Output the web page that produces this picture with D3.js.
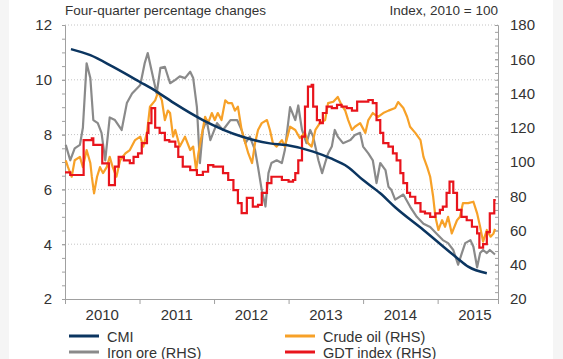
<!DOCTYPE html>
<html><head><meta charset="utf-8">
<script src="https://cdn.jsdelivr.net/npm/d3@7"></script>
<style>
body{margin:0;background:#f5f5f5;}
svg{display:block;font-family:Arial,"Liberation Sans",sans-serif;}
</style>
</head><body>
<svg id="c" width="563" height="359"></svg>
<script>
// ---- data (decimal year, value) ----
const yearLabels = [2010, 2011, 2012, 2013, 2014, 2015];
const leftTicks = [2, 4, 6, 8, 10, 12];
const rightTicks = [20, 40, 60, 80, 100, 120, 140, 160, 180];
const leftTitle = "Four-quarter percentage changes";
const rightTitle = "Index, 2010 = 100";

// CMI, four-quarter % change (LHS)
const cmi = [[2010.08,11.12],[2010.34,10.9],[2010.64,10.48],[2011.0,9.93],[2011.23,9.57],[2011.48,9.12],
  [2011.85,8.53],[2012.38,7.92],[2012.75,7.68],[2012.97,7.62],[2013.33,7.38],[2013.56,7.14],[2013.79,6.83],
  [2014.0,6.34],[2014.23,5.86],[2014.43,5.35],[2014.81,4.52],[2015.26,3.5],[2015.41,3.18],[2015.66,2.94]];

// Iron ore (RHS)
const ironOre = [[2010.01,110],[2010.07,101],[2010.13,108],[2010.20,110],[2010.24,120],[2010.29,157.6],
  [2010.34,149],[2010.38,124.5],[2010.44,122.7],[2010.49,117],[2010.54,101],[2010.60,126],[2010.67,124.5],
  [2010.76,118.7],[2010.83,134.4],[2010.90,140],[2011.01,145],[2011.07,157.8],[2011.11,163.6],[2011.16,153.7],
  [2011.23,140],[2011.28,155],[2011.34,155.6],[2011.41,146],[2011.48,148],[2011.54,150],[2011.61,149],
  [2011.68,152.7],[2011.72,149],[2011.77,132],[2011.81,99.4],[2011.85,118.7],[2011.90,124.5],[2011.95,112.8],
  [2012.04,122.7],[2012.12,118.7],[2012.22,124.5],[2012.31,124.5],[2012.37,118.7],[2012.42,111],[2012.48,114.8],
  [2012.55,107],[2012.59,97],[2012.64,83.6],[2012.69,74],[2012.73,93.5],[2012.77,99.4],[2012.84,101],
  [2012.91,99.4],[2012.95,107],[2013.02,132],[2013.09,124.5],[2013.13,133],[2013.18,118.7],[2013.24,111],
  [2013.29,118.7],[2013.33,114.8],[2013.40,101],[2013.45,93.5],[2013.49,99.4],[2013.53,105],[2013.58,109],
  [2013.62,118.7],[2013.66,114.8],[2013.73,111],[2013.83,112.8],[2013.89,115.8],[2013.96,117],[2014.00,109],
  [2014.07,105],[2014.13,101],[2014.18,87.7],[2014.23,99.4],[2014.30,95.3],[2014.34,85.6],[2014.38,83.6],
  [2014.43,78],[2014.54,81],[2014.63,74],[2014.72,68],[2014.81,64],[2014.90,62],[2014.99,58],[2015.07,54.4],
  [2015.14,52.6],[2015.21,48.6],[2015.275,40],[2015.325,46.8],[2015.37,52.6],[2015.44,54.4],[2015.48,50.5],
  [2015.53,38.5],[2015.57,46.8],[2015.61,48.6],[2015.66,46.8],[2015.70,48.6],[2015.77,46]];

// Crude oil (RHS)
const crudeOil = [[2010.01,101],[2010.04,97],[2010.09,91.4],[2010.13,101],[2010.20,103],[2010.24,97],
  [2010.29,107],[2010.34,99.4],[2010.36,91.4],[2010.39,81.7],[2010.43,91.4],[2010.47,97],[2010.51,93.5],
  [2010.56,97],[2010.60,103],[2010.64,97],[2010.69,91.4],[2010.74,101],[2010.81,105],[2010.87,107],
  [2010.94,112.8],[2011.01,114.8],[2011.05,109],[2011.10,117],[2011.14,132.3],[2011.21,136],[2011.25,141],
  [2011.30,136],[2011.34,124.5],[2011.38,130],[2011.41,128.6],[2011.45,114.8],[2011.48,118.7],[2011.54,109],
  [2011.61,114.8],[2011.68,107],[2011.72,109],[2011.76,95.3],[2011.79,105],[2011.84,117],[2011.88,126.4],
  [2011.92,122.7],[2011.97,128.6],[2012.01,124.5],[2012.05,128.6],[2012.10,124.5],[2012.15,136],[2012.19,134.4],
  [2012.24,134.4],[2012.28,130],[2012.32,132.3],[2012.37,118.7],[2012.42,111],[2012.46,105],[2012.51,99.4],
  [2012.55,111],[2012.59,118.7],[2012.64,122.7],[2012.71,124.5],[2012.75,118.7],[2012.79,111],[2012.84,109],
  [2012.91,112.8],[2012.95,109],[2013.02,120.6],[2013.09,118.7],[2013.15,114],[2013.22,117],[2013.26,111],
  [2013.31,109],[2013.36,118.7],[2013.42,122.7],[2013.49,124.5],[2013.53,134.4],[2013.60,135.2],[2013.66,138],
  [2013.71,133.3],[2013.76,130],[2013.80,124.5],[2013.85,118.7],[2013.89,120.6],[2013.96,122.7],[2014.03,117],
  [2014.07,124.5],[2014.13,128.6],[2014.20,126.4],[2014.27,128.6],[2014.34,130],[2014.43,131.5],[2014.47,135],
  [2014.54,131.5],[2014.59,126.4],[2014.63,120.6],[2014.70,117],[2014.77,112.8],[2014.81,103],[2014.86,97],
  [2014.90,91.4],[2014.94,79.7],[2014.97,68],[2015.01,60.3],[2015.06,66],[2015.10,62.2],[2015.14,68],
  [2015.19,58.3],[2015.26,66],[2015.30,68],[2015.34,76],[2015.41,76],[2015.48,76.8],[2015.53,70],
  [2015.57,62.2],[2015.61,53.5],[2015.66,60.3],[2015.71,56.4],[2015.75,58.3],[2015.77,61]];

// GDT index (RHS), step values
const gdtIndex = [[2010.00,94],[2010.07,92.4],[2010.25,112.8],[2010.36,113.8],[2010.38,110],[2010.50,99.2],
  [2010.59,86.5],[2010.67,97.3],[2010.72,103],[2010.79,101],[2010.87,99.4],[2010.92,103],[2010.98,105],
  [2011.03,111],[2011.10,117],[2011.12,122.7],[2011.16,131.5],[2011.21,120],[2011.27,117],[2011.34,112.8],
  [2011.40,111.9],[2011.48,109],[2011.52,103],[2011.58,97.3],[2011.68,95.3],[2011.77,92.4],[2011.85,94.3],
  [2011.92,98.2],[2011.99,97.3],[2012.12,93.5],[2012.19,89.5],[2012.26,83.6],[2012.32,76],[2012.37,70.2],
  [2012.44,79],[2012.52,74],[2012.59,75],[2012.64,82],[2012.71,87.7],[2012.77,91.4],[2012.91,89.5],
  [2013.00,88.5],[2013.06,89.5],[2013.09,93.5],[2013.13,101],[2013.18,114.8],[2013.22,132.3],[2013.26,144],
  [2013.31,145],[2013.33,132.3],[2013.38,124.5],[2013.42,122.7],[2013.46,128.6],[2013.51,132.3],[2013.58,131.5],
  [2013.65,133.3],[2013.71,132.3],[2013.78,131.5],[2013.85,130],[2013.92,135.2],[2014.07,136.2],[2014.13,134.4],
  [2014.18,124.5],[2014.23,117],[2014.27,111],[2014.34,109],[2014.40,105],[2014.45,101],[2014.50,93.5],
  [2014.54,87.7],[2014.59,82],[2014.63,79.7],[2014.70,76],[2014.77,71],[2014.83,70],[2014.90,68],[2014.97,70],
  [2015.03,72],[2015.07,74],[2015.12,82],[2015.16,88.5],[2015.21,82],[2015.26,72],[2015.32,68],[2015.39,66],
  [2015.46,62.2],[2015.53,58.3],[2015.56,50],[2015.61,52],[2015.66,59],[2015.70,70],[2015.76,77.8],[2015.78,77.8]];

const legendItems = [
  {name:"CMI", data:cmi, color:"#0b3560", col:0, row:0},
  {name:"Crude oil (RHS)", data:crudeOil, color:"#f7a128", col:1, row:0},
  {name:"Iron ore (RHS)", data:ironOre, color:"#8a8a8a", col:0, row:1},
  {name:"GDT index (RHS)", data:gdtIndex, color:"#e8141c", col:1, row:1}
];

// ---- drawing ----
const svg = d3.select("#c");
svg.append("rect").attr("x",9).attr("y",0).attr("width",544).attr("height",359).attr("fill","#fff");

const L = 65, R = 498, T = 25, B = 299;
const x = d3.scaleLinear().domain([2010, 2015.81]).range([L, R]);
const yL = d3.scaleLinear().domain([2, 12]).range([B, T]);
const yR = d3.scaleLinear().domain([20, 180]).range([B, T]);

// gridlines
svg.append("g").selectAll("line").data(leftTicks.filter(d=>d>2)).join("line")
  .attr("x1", L).attr("x2", R).attr("y1", d=>yL(d)).attr("y2", d=>yL(d))
  .attr("stroke","#c4c4c4").attr("stroke-width",1).attr("stroke-dasharray","1,2");

const axisColor = "#a0a0a0";
function styleAxis(g){
  g.selectAll(".domain").attr("stroke", axisColor);
  g.selectAll(".tick line").attr("stroke", axisColor);
  g.selectAll("text").attr("fill","#333").attr("font-size","15px").attr("font-family","Arial, 'Liberation Sans', sans-serif");
}

// left axis minor ticks
svg.append("g").attr("transform",`translate(${L},0)`)
  .call(d3.axisLeft(yL).tickValues(d3.range(2, 12.01, 0.5)).tickFormat("").tickSize(3).tickSizeOuter(0))
  .call(styleAxis);
// left axis labels
svg.append("g").attr("transform",`translate(${L},0)`)
  .call(d3.axisLeft(yL).tickValues(leftTicks).tickSize(3).tickPadding(10).tickSizeOuter(0))
  .call(styleAxis);

// right axis minor ticks (inside)
svg.append("g").attr("transform",`translate(${R},0)`)
  .call(d3.axisRight(yR).tickValues(d3.range(20, 180.1, 4)).tickFormat("").tickSize(-3).tickSizeOuter(0))
  .call(styleAxis);
svg.append("g").attr("transform",`translate(${R},0)`)
  .call(d3.axisRight(yR).tickValues(rightTicks).tickSize(-3).tickPadding(12).tickSizeOuter(0))
  .call(styleAxis);

// bottom axis
svg.append("g").attr("transform",`translate(0,${B})`)
  .call(d3.axisBottom(x).tickValues(yearLabels.concat([2015.81])).tickFormat("").tickSize(5).tickSizeOuter(0))
  .call(styleAxis);
svg.append("g").selectAll("text").data(yearLabels).join("text")
  .attr("x", d=>x(d+0.5)).attr("y", 320).attr("text-anchor","middle")
  .attr("fill","#333").attr("font-size","15px").text(d=>d);

// titles
svg.append("text").attr("x", L).attr("y", 15).attr("fill","#333").attr("font-size","13.5px").text(leftTitle);
svg.append("text").attr("x", R).attr("y", 15).attr("text-anchor","end").attr("fill","#333").attr("font-size","13.5px").text(rightTitle);

// series
const lineR = d3.line().x(d=>x(d[0])).y(d=>yR(d[1]));
const lineStep = d3.line().x(d=>x(d[0])).y(d=>yR(d[1])).curve(d3.curveStepAfter);
const lineL = d3.line().x(d=>x(d[0])).y(d=>yL(d[1])).curve(d3.curveMonotoneX);

svg.append("path").datum(ironOre).attr("d", lineR).attr("fill","none").attr("stroke","#8a8a8a").attr("stroke-width",2.2).attr("stroke-linejoin","round");
svg.append("path").datum(crudeOil).attr("d", lineR).attr("fill","none").attr("stroke","#f7a128").attr("stroke-width",2.2).attr("stroke-linejoin","round");
svg.append("path").datum(gdtIndex).attr("d", lineStep).attr("fill","none").attr("stroke","#e8141c").attr("stroke-width",2.2);
svg.append("path").datum(cmi).attr("d", lineL).attr("fill","none").attr("stroke","#0b3560").attr("stroke-width",2.5);

// legend
const lg = svg.append("g").selectAll("g").data(legendItems).join("g")
  .attr("transform", d=>`translate(${d.col ? 285 : 69},${d.row ? 352 : 336})`);
lg.append("line").attr("x1",0).attr("x2",30).attr("y1",0).attr("y2",0)
  .attr("stroke", d=>d.color).attr("stroke-width",3);
lg.append("text").attr("x",38).attr("y",5.5).attr("fill","#333").attr("font-size","14.5px").text(d=>d.name);
</script>
</body></html>
